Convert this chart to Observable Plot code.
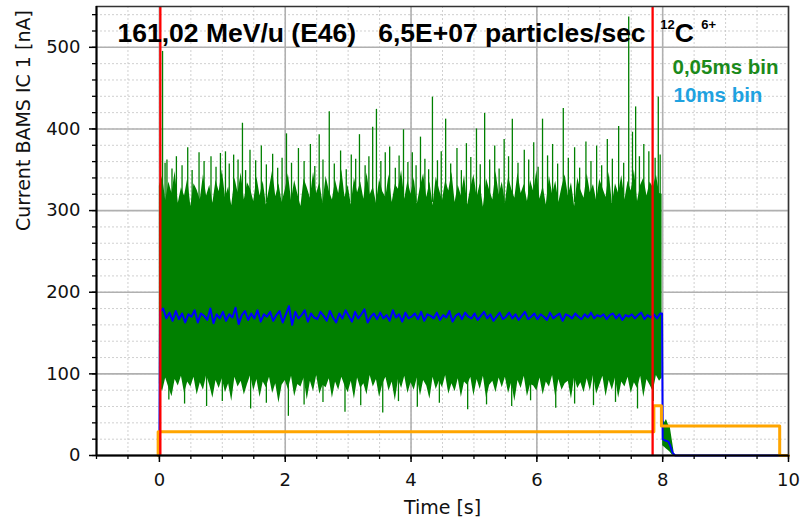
<!DOCTYPE html>
<html><head><meta charset="utf-8">
<script src="https://cdn.jsdelivr.net/npm/d3@7"></script>
<script src="https://cdn.jsdelivr.net/npm/@observablehq/plot@0.6"></script>
<style>
html,body{margin:0;padding:0;background:#fff;}
svg text{white-space:pre;}
</style></head><body><div id="chart"></div>
<script>
// ---- data ----
const sampleStep = 0.05; // s, spacing of the envelope samples below
const greenUpper = [
 330,342,312,335,321,348,309,328,318,339,
 305,333,325,313,344,318,331,309,337,323,
 350,316,329,306,340,322,346,313,334,326,
 311,341,318,336,307,327,349,317,333,310,
 325,345,312,337,320,305,339,328,315,347,
 321,334,309,342,324,313,337,321,350,316,
 331,307,340,322,335,314,346,319,329,309,
 338,323,316,344,310,332,326,349,314,336,
 320,340,308,329,345,316,335,306,341,326,
 312,337,324,347,310,331,318,343,307,328,
 344,316,333,304,339,325,313,348,319,335,
 309,341,326,315,346,321,332,311,337,323,
 349,314,330,307,342,320,336,310,329,344,
 318,334,305,340,325,315,345,322,332,312,
 338,327,316,347,308,333,321,343,313,336,
 324,350,311,331,340,318,335,328,344,321
];
const greenLower = [
 88,78,95,83,72,93,85,97,76,90,
 84,96,74,89,80,98,86,70,92,82,
 94,77,88,66,96,84,91,74,87,98,
 79,93,71,90,83,96,76,88,64,86,
 92,81,97,72,87,84,95,68,91,78,
 98,75,86,83,94,70,90,80,96,85,
 77,91,69,95,82,88,74,98,84,93,
 71,87,96,79,90,67,93,82,97,76,
 89,80,95,73,92,85,69,96,81,91,
 83,98,75,88,78,94,71,90,86,96,
 73,93,81,97,70,86,91,77,95,83,
 96,76,89,66,92,82,97,72,87,85,
 79,95,74,90,84,98,71,93,80,88,
 91,69,96,82,89,77,94,79,98,75,
 86,97,72,92,80,95,70,90,84,96,
 76,89,82,97,71,93,86,78,98,91
];
const greenEndT = 7.99, greenEndLow = 95, greenEndHigh = 320;
const greenTailT = [8.00, 8.03, 8.06, 8.09, 8.12, 8.15, 8.18];
const greenTailLow = [12, 10, 8, 6, 4, 1, 0];
const greenTailHigh = [45, 40, 44, 38, 35, 20, 5];
const spikeT = [0.05,0.09,0.12,0.2,0.27,0.36,0.45,0.52,0.63,0.71,0.82,0.9,0.97,1.05,1.11,1.18,1.25,1.32,1.37,1.44,1.53,1.62,1.7,1.80,1.88,1.95,2.02,2.1,2.21,2.3,2.40,2.47,2.54,2.6,2.70,2.78,2.88,2.97,3.05,3.12,3.18,3.27,3.33,3.39,3.45,3.52,3.59,3.66,3.75,3.81,3.88,3.95,4.02,4.08,4.15,4.22,4.28,4.34,4.42,4.48,4.55,4.63,4.73,4.8,4.88,4.95,5.04,5.1,5.17,5.25,5.33,5.4,5.48,5.55,5.61,5.7,5.80,5.87,5.95,6.02,6.09,6.17,6.25,6.33,6.42,6.5,6.60,6.68,6.78,6.86,6.95,7.03,7.12,7.2,7.30,7.38,7.46,7.52,7.57,7.63,7.70,7.78,7.88,7.93,7.96];
const spikeV = [495,358,362,351,366,355,377,349,371,360,366,353,370,372,357,368,362,407,349,374,361,379,356,369,352,364,394,358,376,360,381,354,393,362,421,357,373,350,368,363,393,355,366,402,424,360,371,378,352,367,399,359,371,355,390,363,350,439,361,372,412,357,376,349,382,365,400,356,419,362,379,351,387,366,412,358,374,362,383,353,412,367,381,357,425,364,377,352,384,360,379,355,387,363,403,358,537,396,427,366,381,372,364,439,368];
const dipT = [0.15,0.4,0.75,1.0,1.45,1.7,2.05,2.3,2.6,2.95,3.2,3.55,3.8,4.1,4.45,4.9,5.2,5.6,5.9,6.3,6.6,6.9,7.25,7.6,7.85];
const dipV = [68,63,60,66,57,64,48,62,65,53,61,52,66,59,64,56,62,60,67,58,63,61,65,57,66];
const blueStartT = 0.01;
const blueV = [
 176,180,168,175,165,177,167,174,163,173,
 170,178,163,174,171,166,180,162,173,168,
 176,165,173,169,181,161,172,177,166,174,
 168,178,164,173,170,176,165,172,177,163,
 173,183,160,176,168,172,178,164,174,169,
 167,176,171,165,177,169,163,174,168,178,
 171,164,176,168,173,179,163,170,174,167,
 175,168,172,165,178,169,173,164,175,168,
 170,174,167,176,165,173,171,168,175,166,
 172,169,177,164,171,174,167,175,170,168,
 174,166,171,176,168,173,165,170,175,167,
 170,175,168,173,166,171,176,167,170,174,
 167,173,170,166,175,168,171,174,165,173,
 171,168,174,170,167,173,169,175,168,172,
 170,173,167,172,174,168,173,166,172,170,
 173,168,172,175,167,172,169,173,168,174
];
const blueTailT = [7.99, 8.00, 8.05, 8.09, 8.12, 8.16, 8.20, 10.0];
const blueTailV = [174, 20, 18, 17, 12, 3, 0, 0];
const orangeT = [-0.02, -0.02, 7.86, 7.98, 9.86, 10.0];
const orangeV = [0, 29, 61, 36, 0, 0];
const redT = [0.015, 7.84];
const xDomain = [-1, 10], yDomain = [0, 550];
const xMajor = [0, 2, 4, 6, 8, 10];
const yMajor = [0, 100, 200, 300, 400, 500];
const xMinor = d3.range(-1, 10.001, 0.5);
const yMinor = d3.range(0, 550.1, 20);
const titleMain = "161,02 MeV/u (E46)   6,5E+07 particles/sec  ";
const ionMass = "12", ionSymbol = "C", ionCharge = "6+";
const legendLabels = ["0,05ms bin", "10ms bin"];
const xLabel = "Time [s]", yLabel = "Current BAMS IC 1 [nA]";

// ---- build tables ----
const green = greenUpper.map((u, i) => ({t: i * sampleStep, lo: greenLower[i], hi: u}));
green.push({t: greenEndT, lo: greenEndLow, hi: greenEndHigh});
const greenTail = greenTailT.map((t, i) => ({t, lo: greenTailLow[i], hi: greenTailHigh[i]}));
const spikes = spikeT.map((t, i) => ({t, v: spikeV[i]}));
const dips = dipT.map((t, i) => ({t, v: dipV[i]}));
const blue = [{t: 0, v: 0}].concat(blueV.map((v, i) => ({t: blueStartT + i * sampleStep, v})), blueTailT.map((t, i) => ({t, v: blueTailV[i]})));
const orange = orangeT.map((t, i) => ({t, v: orangeV[i]}));

const GREEN = "#008000";
const chart = Plot.plot({
  width: 802, height: 520,
  marginLeft: 96, marginRight: 14, marginTop: 6, marginBottom: 65,
  x: {domain: xDomain, label: null},
  y: {domain: yDomain, label: null},
  style: {background: "#fff", fontFamily: "DejaVu Sans", color: "#111"},
  marks: [
    Plot.gridX(xMinor, {stroke: "#c4c4c4", strokeOpacity: 1, strokeWidth: 0.8, strokeDasharray: "2,2"}),
    Plot.gridY(yMinor, {stroke: "#c4c4c4", strokeOpacity: 1, strokeWidth: 0.8, strokeDasharray: "2,2"}),
    Plot.gridX(xMajor, {stroke: "#b0b0b0", strokeOpacity: 1, strokeWidth: 1.6}),
    Plot.gridY(yMajor, {stroke: "#b0b0b0", strokeOpacity: 1, strokeWidth: 1.6}),
    Plot.areaY(green, {x: "t", y1: "lo", y2: "hi", fill: GREEN}),
    Plot.ruleX(spikes, {x: "t", y1: 310, y2: "v", stroke: GREEN, strokeWidth: 1.3}),
    Plot.ruleX(dips, {x: "t", y1: "v", y2: 100, stroke: GREEN, strokeWidth: 1.3}),
    Plot.areaY(greenTail, {x: "t", y1: "lo", y2: "hi", fill: GREEN}),
    Plot.line(blue, {x: "t", y: "v", stroke: "#0000ff", strokeWidth: 2}),
    Plot.line(orange, {x: "t", y: "v", stroke: "#ffa500", strokeWidth: 3, curve: "step-after"}),
    Plot.ruleX(redT, {stroke: "#ff0000", strokeWidth: 2.3}),
    Plot.frame({stroke: "#333", strokeWidth: 1.5}),
    Plot.ruleX([xDomain[0]], {stroke: "#000", strokeWidth: 2}),
    Plot.ruleY([yDomain[0]], {stroke: "#000", strokeWidth: 2}),
    Plot.axisX(xMinor, {tickSize: 4, tickFormat: () => "", label: null, stroke: "#000", strokeWidth: 1.3}),
    Plot.axisY(yMinor, {tickSize: 4, tickFormat: () => "", label: null, stroke: "#000", strokeWidth: 1.3}),
    Plot.axisX(xMajor, {tickSize: 7, tickPadding: 11, fontSize: 18, label: null, stroke: "#000", strokeWidth: 1.5, fill: "#111"}),
    Plot.axisY(yMajor, {tickSize: 7, tickPadding: 9, fontSize: 18, label: null, stroke: "#000", strokeWidth: 1.5, fill: "#111"}),
    Plot.text([xLabel], {frameAnchor: "bottom", dy: 58, lineAnchor: "bottom", fontSize: 19, fill: "#111"}),
    Plot.text([yLabel], {frameAnchor: "left", dx: -67, lineAnchor: "bottom", rotate: -90, fontSize: 19, fill: "#111"}),
    Plot.text([titleMain], {frameAnchor: "top-left", dx: 21, dy: 35, lineAnchor: "bottom", textAnchor: "start", fontSize: 26.5, fontWeight: "bold", fontFamily: "Liberation Sans", fill: "#000"}),
    Plot.text([legendLabels[0]], {frameAnchor: "top-left", dx: 576, dy: 67, lineAnchor: "bottom", textAnchor: "start", fontSize: 20.5, fontWeight: "bold", fontFamily: "Liberation Sans", fill: "#1b8a1b"}),
    Plot.text([legendLabels[1]], {frameAnchor: "top-left", dx: 577, dy: 95, lineAnchor: "bottom", textAnchor: "start", fontSize: 20.5, fontWeight: "bold", fontFamily: "Liberation Sans", fill: "#1fa2e0"})
  ]
});
document.getElementById("chart").appendChild(chart);
d3.select(chart).selectAll("text").filter(function() { return this.textContent === titleMain; }).each(function() {
  const t = d3.select(this);
  t.append("tspan").attr("font-size", 13).attr("dy", -13).text(ionMass);
  t.append("tspan").attr("font-size", 26.5).attr("dy", 13).text(ionSymbol + " ");
  t.append("tspan").attr("font-size", 13).attr("dy", -13).text(ionCharge);
});
</script></body></html>
